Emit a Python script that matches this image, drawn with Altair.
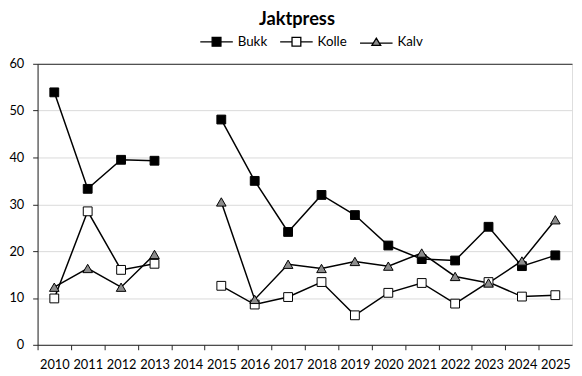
import altair as alt
import pandas as pd

years = list(range(2010, 2026))
series_names = ["Bukk", "Kolle", "Kalv"]
bukk = [53.9, 33.3, 39.5, 39.3, None, 48.1, 35.0, 24.1, 32.0, 27.7, 21.2, 18.3, 18.0, 25.2, 16.8, 19.1]
kolle = [9.9, 28.5, 16.0, 17.3, None, 12.6, 8.6, 10.2, 13.4, 6.3, 11.1, 13.2, 8.8, 13.4, 10.3, 10.6]
kalv = [12.3, 16.3, 12.3, 19.3, None, 30.5, 9.7, 17.2, 16.3, 17.8, 16.8, 19.6, 14.6, 13.2, 17.9, 26.7]
fills = ["#000000", "#ffffff", "#8c8c8c"]
strokes = ["#000000", "#000000", "#000000"]
point_shapes = ["square", "square", "triangle-up"]
legend_shapes = [
    "M-1,0H-0.27M0.27,0H1M-0.27,-0.27H0.27V0.27H-0.27Z",
    "M-1,0H-0.27M0.27,0H1M-0.27,-0.27H0.27V0.27H-0.27Z",
    "M-1,0.06H-0.2M0.2,0.06H1M0,-0.24L0.27,0.2H-0.27Z",
]

rows = []
for name, vals in zip(series_names, [bukk, kolle, kalv]):
    seg = 0
    for y, v in zip(years, vals):
        if v is None:
            seg += 1
            continue
        rows.append({"series": name, "year": y, "value": v, "seg": f"{name}-{seg}"})
df = pd.DataFrame(rows)

FONT = "Lato"
W, H = 542, 285

xenc = alt.X(
    "year:Q",
    scale=alt.Scale(domain=[2009.5, 2025.5], nice=False, zero=False),
    axis=alt.Axis(
        values=[y - 0.5 for y in years],
        labelExpr="format(datum.value + 0.5, 'd')",
        labelOffset=17,
        labelOverlap=False,
        labelBound=False,
        labelFlush=False,
        grid=False,
        tickSize=5,
        tickColor="#262626",
        domainColor="#262626",
        labelFont=FONT,
        labelFontSize=13,
        labelColor="#000000",
        labelPadding=9,
        title=None,
    ),
)
yenc = alt.Y(
    "value:Q",
    scale=alt.Scale(domain=[0, 60], nice=False),
    axis=alt.Axis(
        values=[0, 10, 20, 30, 40, 50, 60],
        grid=True,
        gridColor={"condition": {"test": "datum.value == 60", "value": "#262626"}, "value": "#d9d9d9"},
        gridWidth=1,
        tickSize=5,
        tickColor="#262626",
        domainColor="#262626",
        labelFont=FONT,
        labelFontSize=13,
        labelColor="#000000",
        labelPadding=9,
        title=None,
    ),
)

base = alt.Chart(df)

lines = base.mark_line(color="#000000", strokeWidth=1.5).encode(
    x=xenc, y=yenc, detail="seg:N", order="year:Q"
)

layers = [lines]
for name, f, shp in zip(series_names, fills, point_shapes):
    layers.append(
        base.transform_filter(alt.datum.series == name)
        .mark_point(filled=True, fill=f, stroke="#000000", strokeWidth=1, opacity=1,
                    shape=shp, size=80 if shp == "square" else 95)
        .encode(x=xenc, y=yenc)
    )

leg = dict(title=None, orient="none", legendX=164, legendY=-40,
           direction="horizontal", symbolSize=1089,
           symbolOpacity=1, symbolStrokeWidth=1.3, labelOffset=4, columnPadding=10,
           labelFont=FONT, labelFontSize=13.5, labelColor="#000000", padding=0)

legend_layer = base.mark_point(opacity=0, filled=False).encode(
    x=xenc,
    y=yenc,
    shape=alt.Shape("series:N", scale=alt.Scale(domain=series_names, range=legend_shapes),
                    legend=alt.Legend(**leg)),
    fill=alt.Fill("series:N", scale=alt.Scale(domain=series_names, range=fills),
                  legend=alt.Legend(**leg)),
    stroke=alt.Stroke("series:N", scale=alt.Scale(domain=series_names, range=strokes),
                      legend=alt.Legend(**leg)),
)
layers.append(legend_layer)

chart = (
    alt.layer(*layers)
    .properties(
        width=W,
        height=H,
        title=alt.TitleParams("Jaktpress", font=FONT, fontSize=18.5, fontWeight="bold",
                              color="#000000", anchor="middle", dx=-8, dy=8, offset=4),
        autosize=alt.AutoSizeParams(type="none"),
        padding={"left": 30, "top": 54, "right": 2, "bottom": 26},
    )
    .configure_view(stroke="#808080", strokeWidth=1)
    .configure(background="#ffffff")
)

chart.save("out.html", embed_options={"renderer": "svg", "actions": False})
